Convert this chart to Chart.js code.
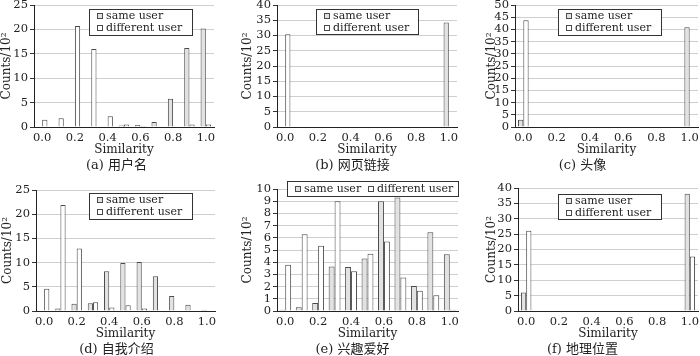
<!DOCTYPE html>
<html>
<head>
<meta charset="utf-8">
<script src="https://cdn.jsdelivr.net/npm/chart.js@4.4.1/dist/chart.umd.min.js"></script>
<style>
  body { margin: 0; background: #fff; }
  #wrap { position: relative; width: 700px; height: 356px; overflow: hidden; }
  canvas { position: absolute; }
  .cap {
    position: absolute; text-align: center; color: #222;
    font: 13px "DejaVu Serif", "Noto Sans CJK SC", serif;
    line-height: 15px;
  }
</style>
</head>
<body>
<div id="wrap"></div>
<script>
const categories = ["0.0", "0.1", "0.2", "0.3", "0.4", "0.5", "0.6", "0.7", "0.8", "0.9", "1.0"];
const seriesNames = ["same user", "different user"];

// (a) 用户名
const usernameSame = [0, 0, 0, 0, 0, 0.3, 0.4, 1.0, 5.8, 16.2, 20.2];
const usernameDiff = [1.5, 1.8, 20.7, 16.0, 2.2, 0.5, 0.2, 0, 0.1, 0.5, 0.5];
// (b) 网页链接
const linkSame = [0, 0, 0, 0, 0, 0, 0, 0, 0, 0, 34.3];
const linkDiff = [30.4, 0, 0, 0, 0, 0, 0, 0, 0, 0, 0];
// (c) 头像
const avatarSame = [3.0, 0, 0, 0, 0, 0, 0, 0, 0, 0, 40.9];
const avatarDiff = [43.8, 0, 0, 0, 0, 0, 0, 0, 0, 0, 0];
// (d) 自我介绍
const introSame = [0, 0.5, 1.5, 1.6, 8.2, 9.9, 10.1, 7.2, 3.1, 1.3, 0.2];
const introDiff = [4.6, 21.9, 12.9, 1.8, 0.7, 1.2, 0.5, 0, 0, 0, 0];
// (e) 兴趣爱好
const interestSame = [0.1, 0.3, 0.65, 3.65, 3.6, 4.3, 9.0, 9.3, 2.05, 6.45, 4.65];
const interestDiff = [3.8, 6.3, 5.35, 9.0, 3.25, 4.7, 5.7, 2.75, 1.65, 1.3, 0.1];
// (f) 地理位置
const locationSame = [6.0, 0, 0, 0, 0, 0, 0, 0, 0, 0, 38.1];
const locationDiff = [26.1, 0, 0, 0, 0, 0, 0, 0, 0, 0, 17.7];

const panels = [
  { cap: "(a) 用户名", same: usernameSame, diff: usernameDiff, max: 25, step: 5,
    left: 0, top: 0, w: 233, h: 159, yW: 34, padTop: 5, padRight: 19, titlePad: 0,
    box: { x: 89, y: 9, w: 103, h: 26, oneRow: false }, capY: 157 },
  { cap: "(b) 网页链接", same: linkSame, diff: linkDiff, max: 40, step: 5,
    left: 235, top: 0, w: 235, h: 159, yW: 42, padTop: 5, padRight: 13, titlePad: 6,
    box: { x: 81, y: 9, w: 102, h: 25, oneRow: false }, capY: 157 },
  { cap: "(c) 头像", same: avatarSame, diff: avatarDiff, max: 50, step: 5,
    left: 465, top: 0, w: 235, h: 159, yW: 50, padTop: 5, padRight: 2, titlePad: 20,
    box: { x: 93, y: 9, w: 103, h: 26, oneRow: false }, capY: 157 },
  { cap: "(d) 自我介绍", same: introSame, diff: introDiff, max: 25, step: 5,
    left: 0, top: 176, w: 233, h: 167, yW: 36, padTop: 14, padRight: 18, titlePad: 1,
    box: { x: 89, y: 17, w: 103, h: 26, oneRow: false }, capY: 341 },
  { cap: "(e) 兴趣爱好", same: interestSame, diff: interestDiff, max: 10, step: 1,
    left: 235, top: 176, w: 235, h: 167, yW: 42, padTop: 13, padRight: 12, titlePad: 6, catPct: 0.72,
    box: { x: 52, y: 5, w: 171, h: 15, oneRow: true }, capY: 341 },
  { cap: "(f) 地理位置", same: locationSame, diff: locationDiff, max: 40, step: 5,
    left: 465, top: 176, w: 235, h: 167, yW: 53, padTop: 12, padRight: 2, titlePad: 20,
    box: { x: 93, y: 18, w: 103, h: 25, oneRow: false }, capY: 341 }
];

const grayFill = "#e2e2e2";
const edge = "#4a4a4a";
const font = "DejaVu Serif";

// legend drawn as a framed box inside the plot, like the original figure
const boxLegend = {
  id: "boxLegend",
  afterDraw(chart, args, opts) {
    const b = opts.box;
    if (!b) return;
    const ctx = chart.ctx;
    ctx.save();
    ctx.fillStyle = "#fff";
    ctx.fillRect(b.x, b.y, b.w, b.h);
    ctx.strokeStyle = "#333";
    ctx.lineWidth = 1;
    ctx.strokeRect(b.x + 0.5, b.y + 0.5, b.w, b.h);
    ctx.font = "11px '" + font + "'";
    ctx.textBaseline = "middle";
    chart.data.datasets.forEach(function (ds, i) {
      let sx, cy;
      if (b.oneRow) {
        sx = b.x + (i === 0 ? 8 : 81);
        cy = b.y + 8;
      } else {
        sx = b.x + 8;
        cy = b.y + 7 + i * 12;
      }
      // square aligned on whole pixels so its frame stays crisp
      ctx.fillStyle = ds.backgroundColor;
      ctx.fillRect(sx, cy - 3, 6, 6);
      ctx.strokeStyle = edge;
      ctx.strokeRect(sx + 0.5, cy - 2.5, 5, 5);
      ctx.fillStyle = "#222";
      ctx.fillText(ds.label, sx + 9, cy);
    });
    ctx.restore();
  }
};

const wrap = document.getElementById("wrap");

panels.forEach(function (p) {
  const canvas = document.createElement("canvas");
  canvas.width = p.w;
  canvas.height = p.h;
  canvas.style.left = p.left + "px";
  canvas.style.top = p.top + "px";
  wrap.appendChild(canvas);

  const cap = document.createElement("div");
  cap.className = "cap";
  cap.textContent = p.cap;
  cap.style.left = p.left + "px";
  cap.style.width = p.w + "px";
  cap.style.top = p.capY + "px";
  wrap.appendChild(cap);

  new Chart(canvas.getContext("2d"), {
    type: "bar",
    data: {
      labels: categories,
      datasets: [{
        label: seriesNames[0],
        data: p.same,
        backgroundColor: grayFill,
        borderColor: edge,
        borderWidth: 1
      }, {
        label: seriesNames[1],
        data: p.diff,
        backgroundColor: "#ffffff",
        borderColor: edge,
        borderWidth: 1
      }]
    },
    options: {
      responsive: false,
      animation: false,
      categoryPercentage: p.catPct || 0.64,
      barPercentage: 1.0,
      layout: { padding: { top: p.padTop, right: p.padRight, left: 0, bottom: 0 } },
      plugins: {
        legend: { display: false },
        tooltip: { enabled: false },
        boxLegend: { box: p.box }
      },
      scales: {
        x: {
          grid: { display: false, drawTicks: false },
          border: { color: "#222", width: 1 },
          ticks: {
            autoSkip: false,
            maxRotation: 0,
            padding: 4,
            color: "#222",
            font: { family: font, size: 11.5 },
            callback: function (v, i) { return i % 2 === 0 ? categories[i] : ""; }
          },
          title: {
            display: true,
            text: "Similarity",
            color: "#222",
            font: { family: font, size: 12 },
            padding: { top: 0, bottom: 2 }
          },
          afterFit: function (s) { s.height = 32; s.paddingLeft = 0; s.paddingRight = 0; }
        },
        y: {
          min: 0,
          max: p.max,
          grid: { color: "#cfcfcf", lineWidth: 1, tickLength: 4, tickColor: "#333" },
          border: { color: "#222", width: 1 },
          ticks: {
            stepSize: p.step,
            autoSkip: false,
            padding: 2,
            color: "#222",
            font: { family: font, size: 11.5 }
          },
          title: {
            display: true,
            text: "Counts/10²",
            color: "#222",
            font: { family: font, size: 12 },
            padding: { top: p.titlePad, bottom: 0 }
          },
          afterFit: function (s) { s.width = p.yW; s.paddingTop = 0; s.paddingBottom = 0; }
        }
      }
    },
    plugins: [boxLegend]
  });
});
</script>
</body>
</html>
